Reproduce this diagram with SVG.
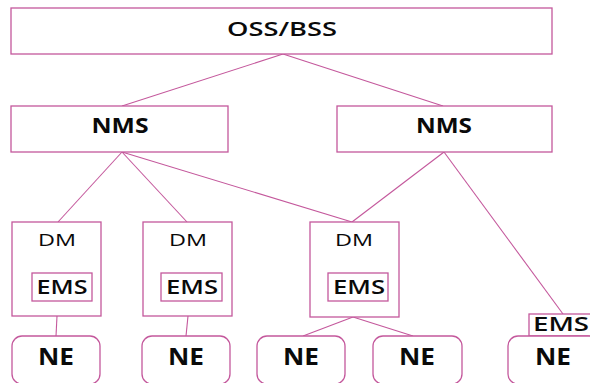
<svg xmlns="http://www.w3.org/2000/svg" width="590" height="383" viewBox="0 0 590 383">
  <style>
    .box { fill: #ffffff; stroke: #c4589c; stroke-width: 1.3; }
    .link { stroke: #c4589c; stroke-width: 1.1; fill: none; }
    .t { font-family: "Open Sans", "Liberation Sans", sans-serif; fill: #0a0a0a; text-anchor: middle; }
    .reg { font-weight: normal; }
    .semi { font-weight: 600; }
    .bold { font-weight: bold; }
  </style>
  <rect width="590" height="383" fill="#ffffff"/>

  <!-- connectors -->
  <g id="connectors">
    <line class="link" x1="283" y1="54" x2="122" y2="106"/>
    <line class="link" x1="283" y1="54" x2="443" y2="106"/>
    <line class="link" x1="122" y1="152" x2="58" y2="222"/>
    <line class="link" x1="122" y1="152" x2="187" y2="222"/>
    <line class="link" x1="122" y1="152" x2="352" y2="222"/>
    <line class="link" x1="444" y1="152" x2="352" y2="222"/>
    <line class="link" x1="444" y1="152" x2="563" y2="314"/>
    <line class="link" x1="57" y1="316" x2="56" y2="336"/>
    <line class="link" x1="188" y1="316" x2="186" y2="336"/>
    <line class="link" x1="353" y1="317" x2="303" y2="336"/>
    <line class="link" x1="353" y1="317" x2="413" y2="336"/>
  </g>

  <g id="oss-bss">
    <rect class="box" x="11" y="8" width="541" height="46"/>
    <text class="t semi" x="282" y="36" font-size="20" textLength="110" lengthAdjust="spacingAndGlyphs">OSS/BSS</text>
  </g>

  <g id="nms-left">
    <rect class="box" x="11" y="106" width="217" height="46"/>
    <text class="t bold" x="120" y="133" font-size="21" textLength="57" lengthAdjust="spacingAndGlyphs">NMS</text>
  </g>
  <g id="nms-right">
    <rect class="box" x="337" y="106" width="215" height="46"/>
    <text class="t bold" x="444" y="133" font-size="21" textLength="56" lengthAdjust="spacingAndGlyphs">NMS</text>
  </g>

  <g id="dm-1">
    <rect class="box" x="12" y="222" width="89" height="94"/>
    <text class="t reg" x="57" y="246" font-size="17" textLength="38" lengthAdjust="spacingAndGlyphs">DM</text>
    <rect class="box" x="32" y="273" width="60" height="28"/>
    <text class="t semi" x="62" y="294" font-size="20" textLength="51" lengthAdjust="spacingAndGlyphs">EMS</text>
  </g>
  <g id="dm-2">
    <rect class="box" x="143" y="222" width="89" height="94"/>
    <text class="t reg" x="188" y="246" font-size="17" textLength="38" lengthAdjust="spacingAndGlyphs">DM</text>
    <rect class="box" x="161" y="273" width="61" height="28"/>
    <text class="t semi" x="192" y="294" font-size="20" textLength="52" lengthAdjust="spacingAndGlyphs">EMS</text>
  </g>
  <g id="dm-3">
    <rect class="box" x="310" y="222" width="89" height="95"/>
    <text class="t reg" x="354" y="246" font-size="17" textLength="38" lengthAdjust="spacingAndGlyphs">DM</text>
    <rect class="box" x="328" y="273" width="60" height="28"/>
    <text class="t semi" x="359" y="294" font-size="20" textLength="52" lengthAdjust="spacingAndGlyphs">EMS</text>
  </g>

  <g id="ems-standalone">
    <rect class="box" x="529" y="314" width="70" height="22"/>
    <text class="t semi" x="561" y="331" font-size="20" textLength="56" lengthAdjust="spacingAndGlyphs">EMS</text>
  </g>

  <g id="ne-1">
    <rect class="box" x="12" y="336" width="88" height="48" rx="10"/>
    <text class="t bold" x="56" y="365" font-size="23" textLength="36" lengthAdjust="spacingAndGlyphs">NE</text>
  </g>
  <g id="ne-2">
    <rect class="box" x="142" y="336" width="88" height="48" rx="10"/>
    <text class="t bold" x="186" y="365" font-size="23" textLength="36" lengthAdjust="spacingAndGlyphs">NE</text>
  </g>
  <g id="ne-3">
    <rect class="box" x="257" y="336" width="88" height="48" rx="10"/>
    <text class="t bold" x="301" y="365" font-size="23" textLength="36" lengthAdjust="spacingAndGlyphs">NE</text>
  </g>
  <g id="ne-4">
    <rect class="box" x="373" y="336" width="89" height="48" rx="10"/>
    <text class="t bold" x="417" y="365" font-size="23" textLength="36" lengthAdjust="spacingAndGlyphs">NE</text>
  </g>
  <g id="ne-5">
    <rect class="box" x="508" y="336" width="90" height="48" rx="10"/>
    <text class="t bold" x="553" y="365" font-size="23" textLength="36" lengthAdjust="spacingAndGlyphs">NE</text>
  </g>
</svg>
